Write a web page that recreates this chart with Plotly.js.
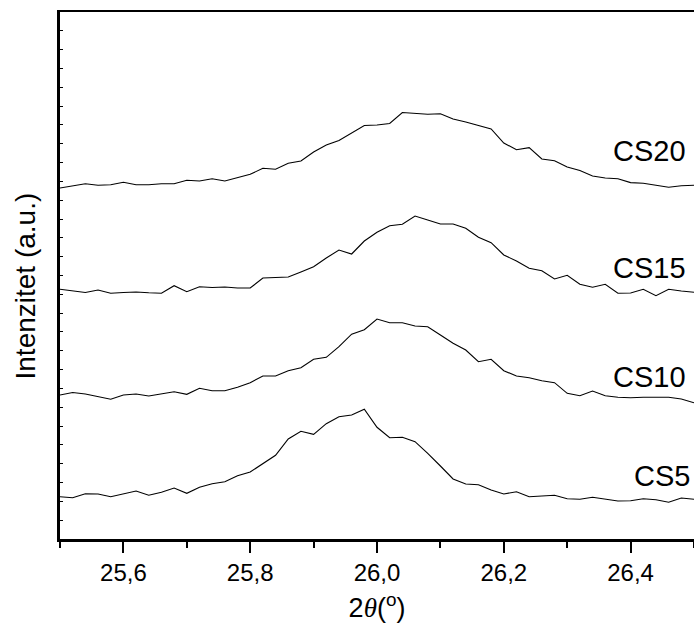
<!DOCTYPE html>
<html>
<head>
<meta charset="utf-8">
<script src="https://cdn.plot.ly/plotly-3.0.1.min.js"></script>
<style>html,body{margin:0;padding:0;background:#fff;}</style>
</head>
<body>
<div id="chart" style="width:694px;height:625px;"></div>
<script>
// 2theta (degrees)
const twoTheta = [25.50,25.52,25.54,25.56,25.58,25.60,25.62,25.64,25.66,25.68,
  25.70,25.72,25.74,25.76,25.78,25.80,25.82,25.84,25.86,25.88,
  25.90,25.92,25.94,25.96,25.98,26.00,26.02,26.04,26.06,26.08,
  26.10,26.12,26.14,26.16,26.18,26.20,26.22,26.24,26.26,26.28,
  26.30,26.32,26.34,26.36,26.38,26.40,26.42,26.44,26.46,26.48,26.50];

// Intensity (a.u., offset-stacked as in the figure)
const cs20 = [351,353.5,355.3,353.7,354.3,356.7,354.3,354.3,355.3,355.3,
  358.7,358,360.3,358,361.3,364.7,370.7,369.7,375.7,378,
  387,394,398.5,406,413.5,414,415.5,426.5,425.7,424.7,
  425.2,420,417,413.4,410,396,389.3,391.3,380,378.3,
  372,368.5,363,361,360.2,356.4,355.7,353.7,351.8,353.2,353.7];

const cs15 = [249.7,248,246.5,249,245.7,246.5,247,246.2,245.7,253.3,
  247.3,252.3,251.5,252,251,251,261,261.5,262,267,
  272.3,281,289,285,298,306.7,313.3,314.7,323,319,
  315,315,310.7,301.7,296.3,284,278,270.7,268.3,260,
  263.7,254.7,251.7,254.7,245.7,246,249.7,243.3,249.7,248,246.7];

const cs10 = [144,146.5,145,142.5,139.7,144,145,143,145,147.3,
  144.7,150.7,148.3,148.3,151.7,156.3,163,163,168.3,171.3,
  179.7,181.7,192.3,204.8,209.3,220,216.3,216.3,213,212.3,
  204,195.7,189,177.3,179.7,168.3,163,161.3,158.3,156.3,
  145.7,143.3,148,143.3,141.7,141.3,141.7,141.7,141.7,140,136.3];

const cs5 = [42.3,41.3,45.3,45,42.3,45,48,43.7,46.7,51,
  45.7,51.7,55.3,57.3,63.3,67,75,83.7,100,107.7,
  104.7,115.3,122.3,124,129.8,111.7,101.3,101.7,97.3,85.7,
  73,60,55,54.3,49,45,47.3,42.3,43,43.7,
  40.3,39.7,41.7,40,38,38.3,40.3,39.3,36.7,41,39.7];

const seriesNames = ["CS20","CS15","CS10","CS5"];
const seriesData = [cs20, cs15, cs10, cs5];
const labelY = [388, 271, 162, 63];
const xTickVals = [25.6, 25.8, 26.0, 26.2, 26.4];
const xTickText = ["25,6","25,8","26,0","26,2","26,4"];
const yTitle = "Intenzitet (a.u.)";

const FONT = "Liberation Sans, Arial, sans-serif";

const traces = seriesData.map((d, i) => ({
  type: "scatter",
  mode: "lines",
  x: twoTheta,
  y: d,
  name: seriesNames[i],
  line: {color: "#000", width: 1.1},
  hoverinfo: "x+y+name"
}));

const annotations = seriesNames.map((n, i) => ({
  x: i === 3 ? 26.497 : 26.491,
  y: labelY[i],
  xref: "x", yref: "y",
  text: n,
  showarrow: false,
  xanchor: "right",
  yanchor: "middle",
  font: {family: FONT, size: 29, color: "#000"}
}));

// y-axis title placed as a rotated annotation (slightly below axis centre, as in the figure)
annotations.push({
  x: -0.0545, y: 0.48,
  xref: "paper", yref: "paper",
  text: yTitle,
  textangle: -90,
  showarrow: false,
  xanchor: "center",
  yanchor: "middle",
  font: {family: FONT, size: 28, color: "#000"}
});

const layout = {
  width: 694,
  height: 625,
  margin: {l: 60, r: 0, t: 12, b: 86, pad: 0},
  paper_bgcolor: "#fff",
  plot_bgcolor: "#fff",
  showlegend: false,
  font: {family: FONT, color: "#000"},
  xaxis: {
    range: [25.5, 26.5],
    tickvals: xTickVals,
    ticktext: xTickText,
    ticks: "outside",
    ticklen: 11,
    tickwidth: 2,
    tickcolor: "#000",
    minor: {dtick: 0.1, tick0: 25.5, ticks: "outside", ticklen: 6, tickwidth: 2, tickcolor: "#000", showgrid: false},
    showline: true,
    linewidth: 2.5,
    linecolor: "#000",
    mirror: true,
    showgrid: false,
    zeroline: false,
    tickfont: {family: FONT, size: 24, color: "#000"},
    automargin: false,
    title: {
      text: '2<i><span style="font-family:Liberation Serif, Times New Roman, serif">θ</span></i>(<sup>o</sup>)',
      font: {family: FONT, size: 27, color: "#000"},
      standoff: 13
    }
  },
  yaxis: {
    range: [0, 527],
    tick0: 0,
    dtick: 527 / 28,
    ticks: "inside",
    ticklen: 3,
    tickwidth: 1,
    tickcolor: "#000",
    showticklabels: false,
    showline: true,
    linewidth: 3,
    linecolor: "#000",
    mirror: false,
    showgrid: false,
    zeroline: false,
    automargin: false
  },
  annotations: annotations
};

Plotly.newPlot("chart", traces, layout, {displayModeBar: false, staticPlot: true});
</script>
</body>
</html>
